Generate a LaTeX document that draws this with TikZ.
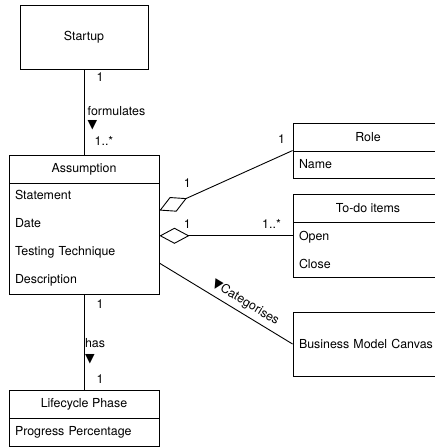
\documentclass[tikz,border=0pt]{standalone}
\usepackage{fontspec}
\setmainfont{TeX Gyre Heros}
\newfontfamily\symfont{DejaVu Sans}
\newfontfamily\flatfont[Kerning=Off, Ligatures=NoCommon]{TeX Gyre Heros}
\newcommand{\dirdown}{{\symfont\fontsize{12.5}{12.5}\selectfont ▼}}
\usetikzlibrary{arrows.meta,positioning,calc}

\begin{document}
\begin{tikzpicture}[x=1pt, y=-1pt,
      font=\fontsize{12.4}{14}\selectfont,
      cls/.style={draw, line width=0.9pt, minimum width=128, minimum height=64},
      hd/.style={draw, line width=0.9pt, minimum width=150, minimum height=28, inner sep=0pt},
      attr/.style={draw, line width=0.9pt, text width=138, inner xsep=6pt, inner ysep=0pt,
                   align=left, font=\fontsize{12.4}{28}\selectfont},
      rel/.style={line width=0.9pt},
      agg/.style={rel, {Diamond[open, length=30pt, width=16pt]}-},
      mult/.style={inner sep=1pt, anchor=center},
    ]
    \useasboundingbox (0,0) rectangle (435,447);
    \clip (0,0) rectangle (435,447);

    \node[cls] (startup) at (84,37) {Startup};

    \node[hd] (asshd) at (84,169) {Assumption};
    \node[attr, minimum height=111] (assbody) at (84,238.5) {Statement\\Date\\Testing Technique\\Description};

    \node[hd] (lifehd) at (84,404) {Lifecycle Phase};
    \node[attr, minimum height=28] (lifebody) at (84,432) {Progress Percentage};

    \node[hd] (rolehd) at (368,137) {Role};
    \node[attr, minimum height=27] (rolebody) at (368,164.5) {Name};

    \node[hd] (todohd) at (368,208) {To-do items};
    \node[attr, minimum height=55] (todobody) at (368,249.5) {Open\\Close};

    \node[attr, minimum height=64] (bmc) at (368,344) {Business Model Canvas};

    \coordinate (todoin) at ($(todobody.north west)!0.2545!(todobody.south west)$);
    \coordinate (catfrom) at ($(assbody.north east)!0.72!(assbody.south east)$);

    \draw[rel] (startup.south) -- (asshd.north)
      node[mult, pos=0.093, xshift=16pt] (m1) {1}
      node[mult, pos=0.576, xshift=32.5pt, align=left] (fm) {formulates\\[-1pt]\dirdown}
      node[mult, pos=0.837, xshift=20pt] (m2) {1..*};

    \draw[rel] (assbody.south) -- (lifehd.north)
      node[mult, pos=0.104, xshift=16pt] (m3) {1}
      node[mult, pos=0.594, xshift=11pt, align=left] (hs) {has\\[1pt]\dirdown}
      node[mult, pos=0.885, xshift=16pt] (m4) {1};

    \draw[agg] ($(assbody.north east)!0.25!(assbody.south east)$) -- (rolebody.north west)
      node[mult, pos=0.21, yshift=15pt] (m5) {1}
      node[mult, pos=0.917, yshift=16pt] (m6) {1};

    \draw[agg] (todoin -| assbody.east) -- (todoin)
      node[mult, pos=0.21, yshift=12pt] (m7) {1}
      node[mult, pos=0.842, yshift=12pt] (m8) {1..*};

    \draw[rel] (catfrom) -- (bmc.west);
    \node[rotate=-31.2, inner sep=0pt] (cat) at ($(catfrom)!0.604!(bmc.west) + (5.6,-9.4)$) {\dirdown\flatfont Categorises};
  \end{tikzpicture}
\end{document}
